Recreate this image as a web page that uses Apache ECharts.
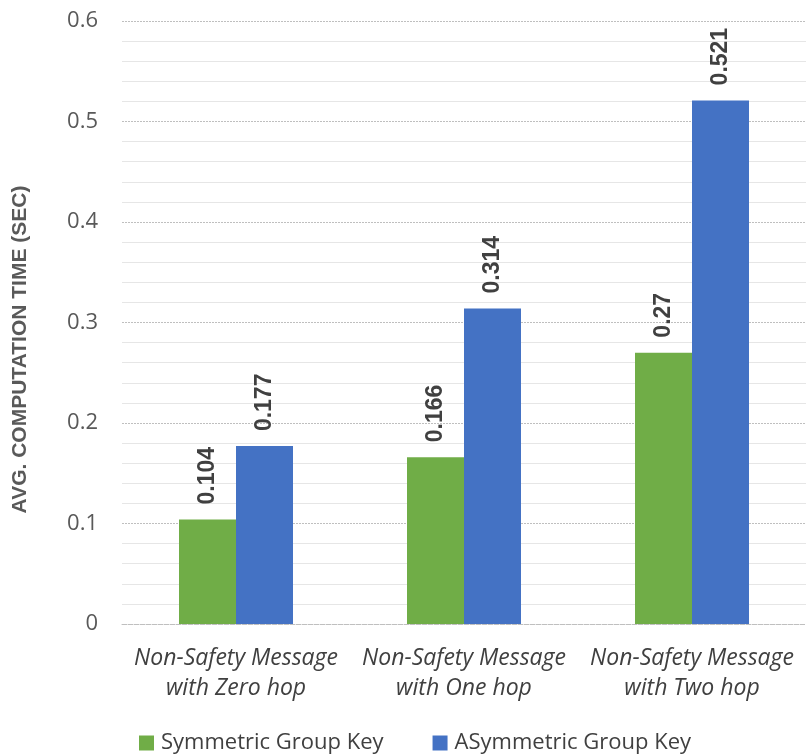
<!DOCTYPE html>
<html>
<head>
<meta charset="utf-8">
<script src="https://cdn.jsdelivr.net/npm/echarts@6/dist/echarts.min.js"></script>
<style>
  html, body { margin: 0; padding: 0; background: #fff; }
  #chart { width: 806px; height: 755px; }
</style>
</head>
<body>
<div id="chart"></div>
<script>
// Average computation time per message type, symmetric vs asymmetric group keys
const categories = [
  'Non-Safety Message\nwith Zero hop',
  'Non-Safety Message\nwith One hop',
  'Non-Safety Message\nwith Two hop'
];
const symmetricKey = [0.104, 0.166, 0.27];
const asymmetricKey = [0.177, 0.314, 0.521];
const seriesNames = ['Symmetric Group Key', 'ASymmetric Group Key'];

const chart = echarts.init(document.getElementById('chart'));

const valueLabel = {
  show: true,
  position: 'top',
  rotate: 90,
  align: 'left',
  verticalAlign: 'middle',
  distance: 15,
  fontFamily: 'Liberation Sans',
  fontWeight: 'bold',
  fontSize: 23,
  color: '#404040'
};

chart.setOption({
  animation: false,
  grid: { left: 122, right: 0, top: 21, bottom: 131, outerBoundsMode: 'none', containLabel: false },
  legend: {
    top: 727,
    left: 134,
    itemWidth: 15,
    itemHeight: 15,
    itemGap: 49,
    icon: 'rect',
    textStyle: { fontFamily: 'Open Sans', fontSize: 22, color: '#404040', padding: [0, 0, 0, 2] },
    data: seriesNames
  },
  xAxis: {
    type: 'category',
    data: categories,
    axisLine: { show: true, lineStyle: { color: '#bfbfbf', type: 'dashed', width: 1 } },
    axisTick: { show: false },
    axisLabel: {
      interval: 0,
      margin: 19,
      fontFamily: 'Open Sans',
      fontStyle: 'italic',
      fontSize: 23,
      lineHeight: 30,
      color: '#404040'
    }
  },
  yAxis: {
    type: 'value',
    min: 0,
    max: 0.6,
    interval: 0.1,
    name: 'AVG. COMPUTATION TIME (SEC)',
    nameLocation: 'middle',
    nameGap: 91,
    nameTextStyle: {
      fontFamily: 'Liberation Sans',
      fontWeight: 'bold',
      fontSize: 21,
      color: '#595959',
      padding: [0, 54, 0, 0]
    },
    axisLine: { show: false },
    axisTick: { show: false },
    axisLabel: {
      margin: 24,
      fontFamily: 'Open Sans',
      fontSize: 22,
      color: '#595959',
      formatter: v => (v === 0 ? '0' : String(+v.toFixed(1)))
    },
    splitLine: { lineStyle: { color: '#bfbfbf', type: [2, 1], width: 1 } },
    minorTick: { show: false, splitNumber: 5 },
    minorSplitLine: { show: true, lineStyle: { color: '#e6e6e6', width: 1 } }
  },
  series: [
    {
      name: seriesNames[0],
      type: 'bar',
      data: symmetricKey,
      barWidth: '25%',
      barGap: '0%',
      itemStyle: { color: '#70ad47' },
      label: valueLabel
    },
    {
      name: seriesNames[1],
      type: 'bar',
      data: asymmetricKey,
      barWidth: '25%',
      itemStyle: { color: '#4472c4' },
      label: valueLabel
    }
  ]
});
</script>
</body>
</html>
